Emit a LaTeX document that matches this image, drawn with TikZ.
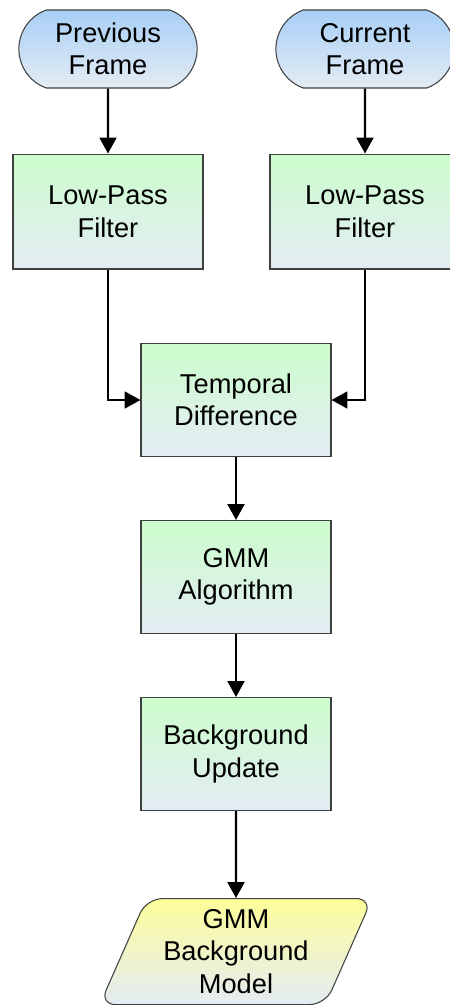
\documentclass[tikz,border=0pt]{standalone}
\usepackage{fontspec}
\setmainfont{Liberation Sans}
\usetikzlibrary{shapes.geometric, shapes.misc, arrows.meta, positioning}
\definecolor{frameblue}{HTML}{A8CFF6}
\definecolor{procgreen}{HTML}{CCFDCC}
\definecolor{outyellow}{HTML}{FDFD99}
\definecolor{fadegray}{HTML}{E4ECF4}
\definecolor{edgegray}{HTML}{404040}

\begin{document}
\begin{tikzpicture}[
  x=0.02cm, y=-0.02cm,
  every node/.style={font=\fontsize{15.5}{18.5}\selectfont, align=center, draw=edgegray, line width=0.6pt},
  input frame/.style={rounded rectangle, rounded rectangle arc length=140, minimum width=3.8cm, minimum height=1.56cm, top color=frameblue, bottom color=fadegray},
  process box/.style={rectangle, minimum width=3.8cm, minimum height=2.3cm, top color=procgreen, bottom color=fadegray},
  output model/.style={trapezium, trapezium left angle=64, trapezium right angle=116, trapezium stretches body, rounded corners=9pt, minimum width=5.45cm, minimum height=2.12cm, top color=outyellow, bottom color=fadegray},
  flow/.style={-{Triangle[width=9.5pt,length=9pt]}, line width=1.4pt, black}
]
\useasboundingbox (0,0) rectangle (450,1005);

% inputs
\node[input frame] (prev) at (108,49) {Previous\\Frame};
\node[input frame] (curr) at (365,49) {Current\\Frame};

% filtering
\node[process box, below=1.3cm of prev] (lpfprev) {Low-Pass\\Filter};
\node[process box, below=1.3cm of curr] (lpfcurr) {Low-Pass\\Filter};

% main chain
\node[process box, minimum height=2.26cm] (tdiff) at (236,400) {Temporal\\Difference};
\node[process box, minimum height=2.26cm, below=1.26cm of tdiff] (gmm) {GMM\\Algorithm};
\node[process box, minimum height=2.26cm, below=1.26cm of gmm] (bgupd) {Background\\Update};
\node[output model, below=1.74cm of bgupd] (model) {GMM\\Background\\Model};

\draw[flow] (prev) -- (lpfprev);
\draw[flow] (curr) -- (lpfcurr);
\draw[flow] (lpfprev.south) |- (tdiff.west);
\draw[flow] (lpfcurr.south) |- (tdiff.east);
\draw[flow] (tdiff) -- (gmm);
\draw[flow] (gmm) -- (bgupd);
\draw[flow] (bgupd) -- (model);
\end{tikzpicture}
\end{document}
